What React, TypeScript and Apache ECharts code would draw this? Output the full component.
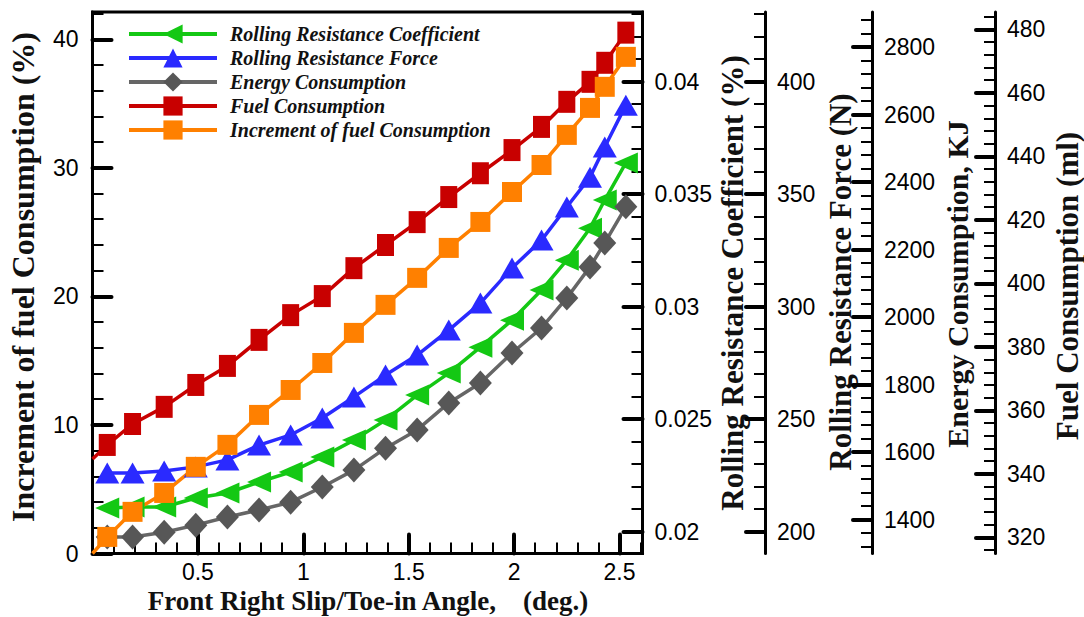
import React, { useEffect, useRef } from "react";
import * as echarts from "echarts";

// ---------- data ----------
const angle = [0.07, 0.19, 0.34, 0.49, 0.64, 0.79, 0.94, 1.09, 1.24, 1.39, 1.54, 1.69, 1.84, 1.99, 2.13, 2.25, 2.36, 2.43, 2.53];
const rrCoefficient = [0.02105, 0.0211, 0.0211, 0.0215, 0.02172, 0.02221, 0.02265, 0.02332, 0.02407, 0.02496, 0.02607, 0.02705, 0.0282, 0.0294, 0.03074, 0.03207, 0.03349, 0.03474, 0.03639];
const rrForce = [226.1, 226.1, 227.0, 228.8, 231.9, 238.5, 243.0, 250.5, 259.9, 269.6, 278.5, 289.6, 301.6, 317.2, 329.6, 344.3, 357.6, 371.0, 389.6];
const energy = [1349, 1349, 1363, 1384, 1408, 1429, 1452, 1497, 1547, 1612, 1666, 1746, 1805, 1894, 1968, 2057, 2149, 2220, 2327];
const fuel = [349.1, 355.7, 361.1, 368.0, 374.0, 382.2, 390.0, 396.0, 404.8, 412.1, 419.3, 427.2, 434.7, 442.0, 449.3, 457.2, 463.5, 469.5, 479.0];
const fuelIncrement = [1.29, 3.24, 4.71, 6.74, 8.45, 10.78, 12.72, 14.82, 17.16, 19.34, 21.44, 23.77, 25.79, 28.12, 30.22, 32.56, 34.66, 36.3, 38.63];
const fuelAtZero = 344.7;
const incrementAtZero = 0;

const seriesNames = [
  "Rolling Resistance Coefficient",
  "Rolling Resistance Force",
  "Energy Consumption",
  "Fuel Consumption",
  "Increment of fuel Consumption",
];

// tick labels
const xTicks = [0.5, 1, 1.5, 2, 2.5];
const leftTicks = [0, 10, 20, 30, 40];
const rrcTicks = [0.02, 0.025, 0.03, 0.035, 0.04];
const rrfTicks = [200, 250, 300, 350, 400];
const energyTicks = [1400, 1600, 1800, 2000, 2200, 2400, 2600, 2800];
const fuelTicks = [320, 340, 360, 380, 400, 420, 440, 460, 480];

// axis titles
const xTitle = "Front Right Slip/Toe-in Angle,    (deg.)";
const leftTitle = "Increment of fuel Consumption (%)";
const rrcTitle = "Rolling Resistance Coefficient (%)";
const rrfTitle = "Rolling Resistance Force (N)";
const energyTitle = "Energy Consumption, KJ";
const fuelTitle = "Fuel Consumption (ml)";

// ---------- styling ----------
const SANS = "'Liberation Sans', Arial, sans-serif";
const SERIF = "'Liberation Serif', 'Times New Roman', serif";
const GREEN = "#14c814";
const BLUE = "#2a2aff";
const GRAY = "#575757";
const RED = "#c80000";
const ORANGE = "#ff8000";
const LINE_W = 3.5;

function minorTicks(start: number, end: number, step: number, majors: number[]) {
  const out: number[] = [];
  const n = Math.round((end - start) / step);
  for (let i = 0; i <= n; i++) {
    const v = +(start + i * step).toFixed(6);
    if (!majors.some((m) => Math.abs(m - v) < step / 10)) out.push(v);
  }
  return out;
}

function majorY(position: string, offset: number, min: number, max: number, ticks: number[]) {
  return {
    type: "value",
    position,
    offset,
    min,
    max,
    axisLine: { show: true, onZero: false, lineStyle: { color: "#000", width: 3 } },
    axisTick: {
      show: true,
      inside: true,
      length: 19,
      customValues: ticks,
      lineStyle: { color: "#000", width: 4, cap: "round" },
    },
    axisLabel: {
      show: true,
      customValues: ticks,
      margin: position === "left" ? 14 : 12,
      formatter: (v: number) => String(v),
      color: "#000",
      fontSize: 23,
      fontFamily: SANS,
    },
    splitLine: { show: false },
  };
}

function minorY(position: string, offset: number, min: number, max: number, ticks: number[]) {
  return {
    type: "value",
    position,
    offset,
    min,
    max,
    axisLine: { show: false, onZero: false },
    axisTick: {
      show: true,
      inside: true,
      length: 11,
      customValues: ticks,
      lineStyle: { color: "#000", width: 2 },
    },
    axisLabel: { show: false },
    splitLine: { show: false },
  };
}

export default function App() {
  const ref = useRef<HTMLDivElement>(null);

  useEffect(() => {
    if (!ref.current) return;
    const chart = echarts.init(ref.current, undefined, { renderer: "svg" });

    const X_MIN = 0, X_MAX = 2.609;
    const L_MIN = 0, L_MAX = 42.12;
    const C_MIN = 0.019031, C_MAX = 0.043098;
    const F_MIN = 190.3, F_MAX = 431.0;
    const E_MIN = 1300, E_MAX = 2904;
    const U_MIN = 314.9, U_MAX = 485.5;

    const pts = (ys: number[]) => angle.map((x, i) => [x, ys[i]]);

    const titleStyle = (text: string, size: number) => ({
      text,
      fontSize: size,
      fontWeight: "bold",
      fontFamily: SERIF,
      fill: "#111",
      align: "center",
      verticalAlign: "middle",
    });

    chart.setOption({
      animation: false,
      backgroundColor: "#fff",
      grid: {
        left: 92.5,
        top: 12,
        width: 550,
        height: 541.5,
        show: true,
        borderColor: "#000",
        borderWidth: 3,
        backgroundColor: "transparent",
      },
      legend: {
        orient: "vertical",
        left: 127,
        top: 24,
        padding: 0,
        itemGap: 4,
        itemWidth: 88,
        itemHeight: 24,
        data: seriesNames,
        lineStyle: { width: 4 },
        textStyle: {
          fontFamily: SERIF,
          fontWeight: "bold",
          fontStyle: "italic",
          fontSize: 20,
          color: "#111",
          padding: [0, 0, 0, 8],
        },
      },
      xAxis: [
        {
          type: "value",
          position: "bottom",
          min: X_MIN,
          max: X_MAX,
          axisLine: { show: true, onZero: false, lineStyle: { color: "#000", width: 3 } },
          axisTick: {
            show: true,
            inside: true,
            length: 19,
            customValues: xTicks,
            lineStyle: { color: "#000", width: 4, cap: "round" },
          },
          axisLabel: {
            show: true,
            customValues: xTicks,
            margin: 7,
            formatter: (v: number) => String(v),
            color: "#000",
            fontSize: 23,
            fontFamily: SANS,
          },
          splitLine: { show: false },
        },
        {
          type: "value",
          position: "bottom",
          min: X_MIN,
          max: X_MAX,
          axisLine: { show: false, onZero: false },
          axisTick: {
            show: true,
            inside: true,
            length: 11,
            customValues: minorTicks(0.1, 2.6, 0.1, xTicks),
            lineStyle: { color: "#000", width: 2 },
          },
          axisLabel: { show: false },
          splitLine: { show: false },
        },
      ],
      yAxis: [
        majorY("left", 0, L_MIN, L_MAX, leftTicks),
        minorY("left", 0, L_MIN, L_MAX, minorTicks(2, 42, 2, leftTicks)),
        majorY("right", 0, C_MIN, C_MAX, rrcTicks),
        minorY("right", 0, C_MIN, C_MAX, minorTicks(0.02, 0.043, 0.001, rrcTicks)),
        majorY("right", 122.5, F_MIN, F_MAX, rrfTicks),
        minorY("right", 122.5, F_MIN, F_MAX, minorTicks(200, 430, 10, rrfTicks)),
        majorY("right", 229.5, E_MIN, E_MAX, energyTicks),
        minorY("right", 229.5, E_MIN, E_MAX, minorTicks(1320, 2880, 40, energyTicks)),
        majorY("right", 352.5, U_MIN, U_MAX, fuelTicks),
        minorY("right", 352.5, U_MIN, U_MAX, minorTicks(316, 484, 4, fuelTicks)),
      ],
      series: [
        {
          name: seriesNames[0],
          type: "line",
          xAxisIndex: 0,
          yAxisIndex: 2,
          data: pts(rrCoefficient),
          symbol: "triangle",
          symbolRotate: 90,
          symbolSize: [21, 24],
          lineStyle: { color: GREEN, width: LINE_W },
          itemStyle: { color: GREEN },
        },
        {
          name: seriesNames[1],
          type: "line",
          xAxisIndex: 0,
          yAxisIndex: 4,
          data: pts(rrForce),
          symbol: "triangle",
          symbolSize: [24, 21],
          lineStyle: { color: BLUE, width: LINE_W },
          itemStyle: { color: BLUE },
        },
        {
          name: seriesNames[2],
          type: "line",
          xAxisIndex: 0,
          yAxisIndex: 6,
          data: pts(energy),
          symbol: "diamond",
          symbolSize: [23, 25],
          lineStyle: { color: "#666", width: LINE_W },
          itemStyle: { color: GRAY },
        },
        {
          name: seriesNames[3],
          type: "line",
          xAxisIndex: 0,
          yAxisIndex: 8,
          data: [{ value: [0, fuelAtZero], symbol: "none" }, ...pts(fuel)],
          symbol: "rect",
          symbolSize: [17, 22],
          lineStyle: { color: RED, width: LINE_W },
          itemStyle: { color: RED },
        },
        {
          name: seriesNames[4],
          type: "line",
          xAxisIndex: 0,
          yAxisIndex: 0,
          data: [{ value: [0, incrementAtZero], symbol: "none" }, ...pts(fuelIncrement)],
          symbol: "rect",
          symbolSize: [20, 20],
          lineStyle: { color: ORANGE, width: LINE_W },
          itemStyle: { color: ORANGE },
        },
      ],
      graphic: [
        { type: "text", x: 368, y: 601, style: titleStyle(xTitle, 27) },
        { type: "text", x: 23, y: 277, rotation: Math.PI / 2, style: titleStyle(leftTitle, 32) },
        { type: "text", x: 732, y: 283, rotation: Math.PI / 2, style: titleStyle(rrcTitle, 31) },
        { type: "text", x: 840, y: 282, rotation: Math.PI / 2, style: titleStyle(rrfTitle, 31) },
        { type: "text", x: 957, y: 284, rotation: Math.PI / 2, style: titleStyle(energyTitle, 30) },
        { type: "text", x: 1067, y: 286, rotation: Math.PI / 2, style: titleStyle(fuelTitle, 31) },
      ],
    });

    return () => chart.dispose();
  }, []);

  return (
    <div
      ref={ref}
      style={{ position: "absolute", left: 0, top: 0, width: 1084, height: 617, background: "#fff" }}
    />
  );
}
